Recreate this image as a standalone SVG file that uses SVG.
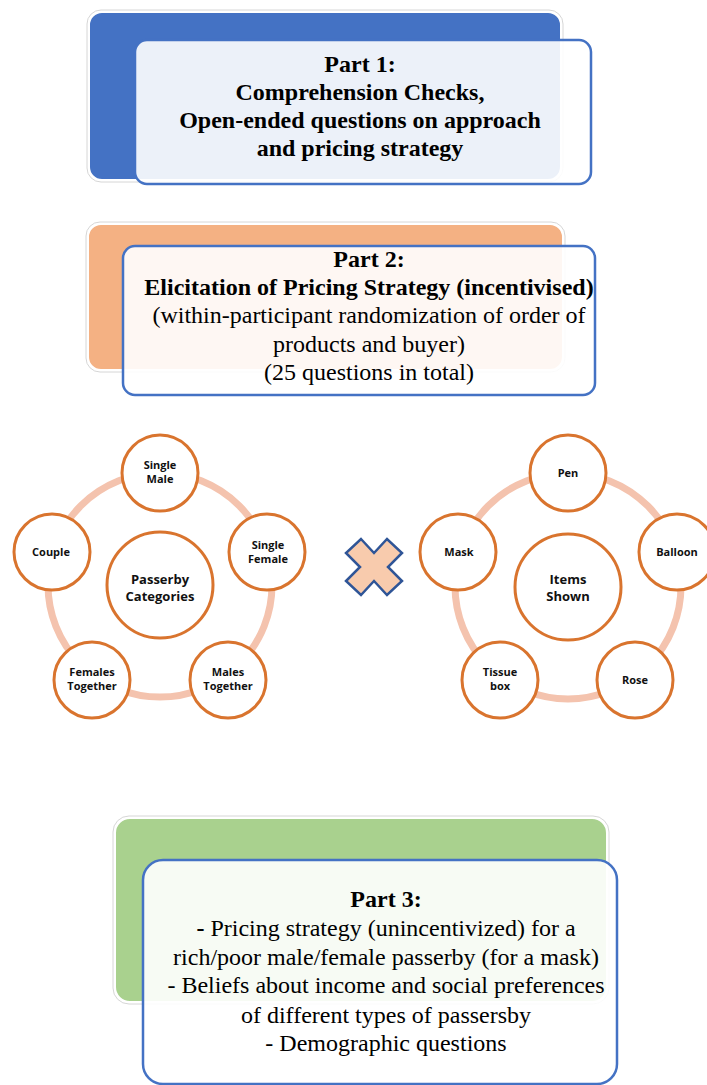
<svg xmlns="http://www.w3.org/2000/svg" width="707" height="1085" viewBox="0 0 707 1085">
<style>
.halo{fill:none;stroke:#D6D6D6;stroke-width:1}
.back{stroke:#FFFFFF;stroke-width:2}
.front{fill:#FFFFFF;fill-opacity:0.9;stroke:#4472C4;stroke-width:2.5}
.tb{font-family:"Liberation Serif",serif;font-size:24px;font-weight:bold;fill:#000;text-anchor:middle}
.tr{font-family:"Liberation Serif",serif;font-size:24px;fill:#000;text-anchor:middle}
.ring{fill:none;stroke:#F4C3AE;stroke-width:7}
.node{fill:#FFFFFF;stroke:#D9742E;stroke-width:3}
.lbl{font-family:"Open Sans",sans-serif;font-size:11px;font-weight:bold;fill:#111;text-anchor:middle}
.hub{font-family:"Open Sans",sans-serif;font-size:13px;font-weight:bold;fill:#111;text-anchor:middle}
</style>

<g id="part1">
<rect class="halo" x="87" y="10" width="476" height="172" rx="14"/>
<rect class="back" x="89" y="12" width="472" height="168" rx="13" fill="#4472C4"/>
<rect class="front" x="135" y="40" width="456" height="144" rx="12"/>
<text class="tb" x="360" y="72">Part 1:</text>
<text class="tb" x="360" y="100">Comprehension Checks,</text>
<text class="tb" x="360" y="128">Open-ended questions on approach</text>
<text class="tb" x="360" y="156">and pricing strategy</text>
</g>

<g id="part2">
<rect class="halo" x="86" y="222" width="479" height="150" rx="14"/>
<rect class="back" x="88" y="224" width="475" height="146" rx="13" fill="#F4B183"/>
<rect class="front" x="123" y="246" width="472" height="149" rx="12"/>
<text class="tb" x="369" y="267">Part 2:</text>
<text class="tb" x="369" y="295">Elicitation of Pricing Strategy (incentivised)</text>
<text class="tr" x="369" y="323">(within-participant randomization of order of</text>
<text class="tr" x="369" y="352">products and buyer)</text>
<text class="tr" x="369" y="380">(25 questions in total)</text>
</g>

<g id="connectors">
<circle class="ring" cx="160" cy="585" r="112"/>
<circle class="ring" cx="568" cy="586" r="113"/>
</g>

<g id="passerby">
<circle class="node" cx="160" cy="585" r="53"/>
<text class="hub" x="160" y="584">Passerby</text>
<text class="hub" x="160" y="601">Categories</text>
</g>
<g id="single-male">
<circle class="node" cx="160" cy="473" r="38"/>
<text class="lbl" x="160" y="469">Single</text>
<text class="lbl" x="160" y="483">Male</text>
</g>
<g id="single-female">
<circle class="node" cx="267" cy="552" r="38"/>
<text class="lbl" x="268" y="549">Single</text>
<text class="lbl" x="268" y="563">Female</text>
</g>
<g id="males-together">
<circle class="node" cx="228" cy="680" r="38"/>
<text class="lbl" x="228" y="676">Males</text>
<text class="lbl" x="228" y="690">Together</text>
</g>
<g id="females-together">
<circle class="node" cx="92" cy="680" r="38"/>
<text class="lbl" x="92" y="676">Females</text>
<text class="lbl" x="92" y="690">Together</text>
</g>
<g id="couple">
<circle class="node" cx="52" cy="552" r="38"/>
<text class="lbl" x="51" y="556">Couple</text>
</g>

<g id="times">
<polygon points="361,539 374,553 387,539 402,553 388,567 402,581 387,595 374,581 361,595 346,581 360,567 346,553" fill="#F8CBAD" stroke="#2F5597" stroke-width="2.5" stroke-linejoin="miter"/>
</g>

<g id="items">
<circle class="node" cx="568" cy="587" r="53"/>
<text class="hub" x="568" y="584">Items</text>
<text class="hub" x="568" y="601">Shown</text>
</g>
<g id="pen">
<circle class="node" cx="568" cy="473" r="38"/>
<text class="lbl" x="568" y="477">Pen</text>
</g>
<g id="balloon">
<circle class="node" cx="677" cy="552" r="38"/>
<text class="lbl" x="677" y="556">Balloon</text>
</g>
<g id="rose">
<circle class="node" cx="635" cy="680" r="38"/>
<text class="lbl" x="635" y="684">Rose</text>
</g>
<g id="tissue-box">
<circle class="node" cx="500" cy="680" r="38"/>
<text class="lbl" x="500" y="676">Tissue</text>
<text class="lbl" x="500" y="690">box</text>
</g>
<g id="mask">
<circle class="node" cx="458" cy="552" r="38"/>
<text class="lbl" x="459" y="556">Mask</text>
</g>

<g id="part3">
<rect class="halo" x="113" y="816" width="496" height="188" rx="16"/>
<rect class="back" x="115" y="818" width="492" height="184" rx="15" fill="#A9D18E"/>
<rect class="front" x="143" y="860" width="474" height="224" rx="20"/>
<text class="tb" x="386" y="907">Part 3:</text>
<text class="tr" x="386" y="936"><tspan font-weight="bold">-</tspan> Pricing strategy (unincentivized) for a</text>
<text class="tr" x="386" y="965">rich/poor male/female passerby (for a mask)</text>
<text class="tr" x="386" y="993">- Beliefs about income and social preferences</text>
<text class="tr" x="386" y="1023">of different types of passersby</text>
<text class="tr" x="386" y="1051">- Demographic questions</text>
</g>
</svg>
